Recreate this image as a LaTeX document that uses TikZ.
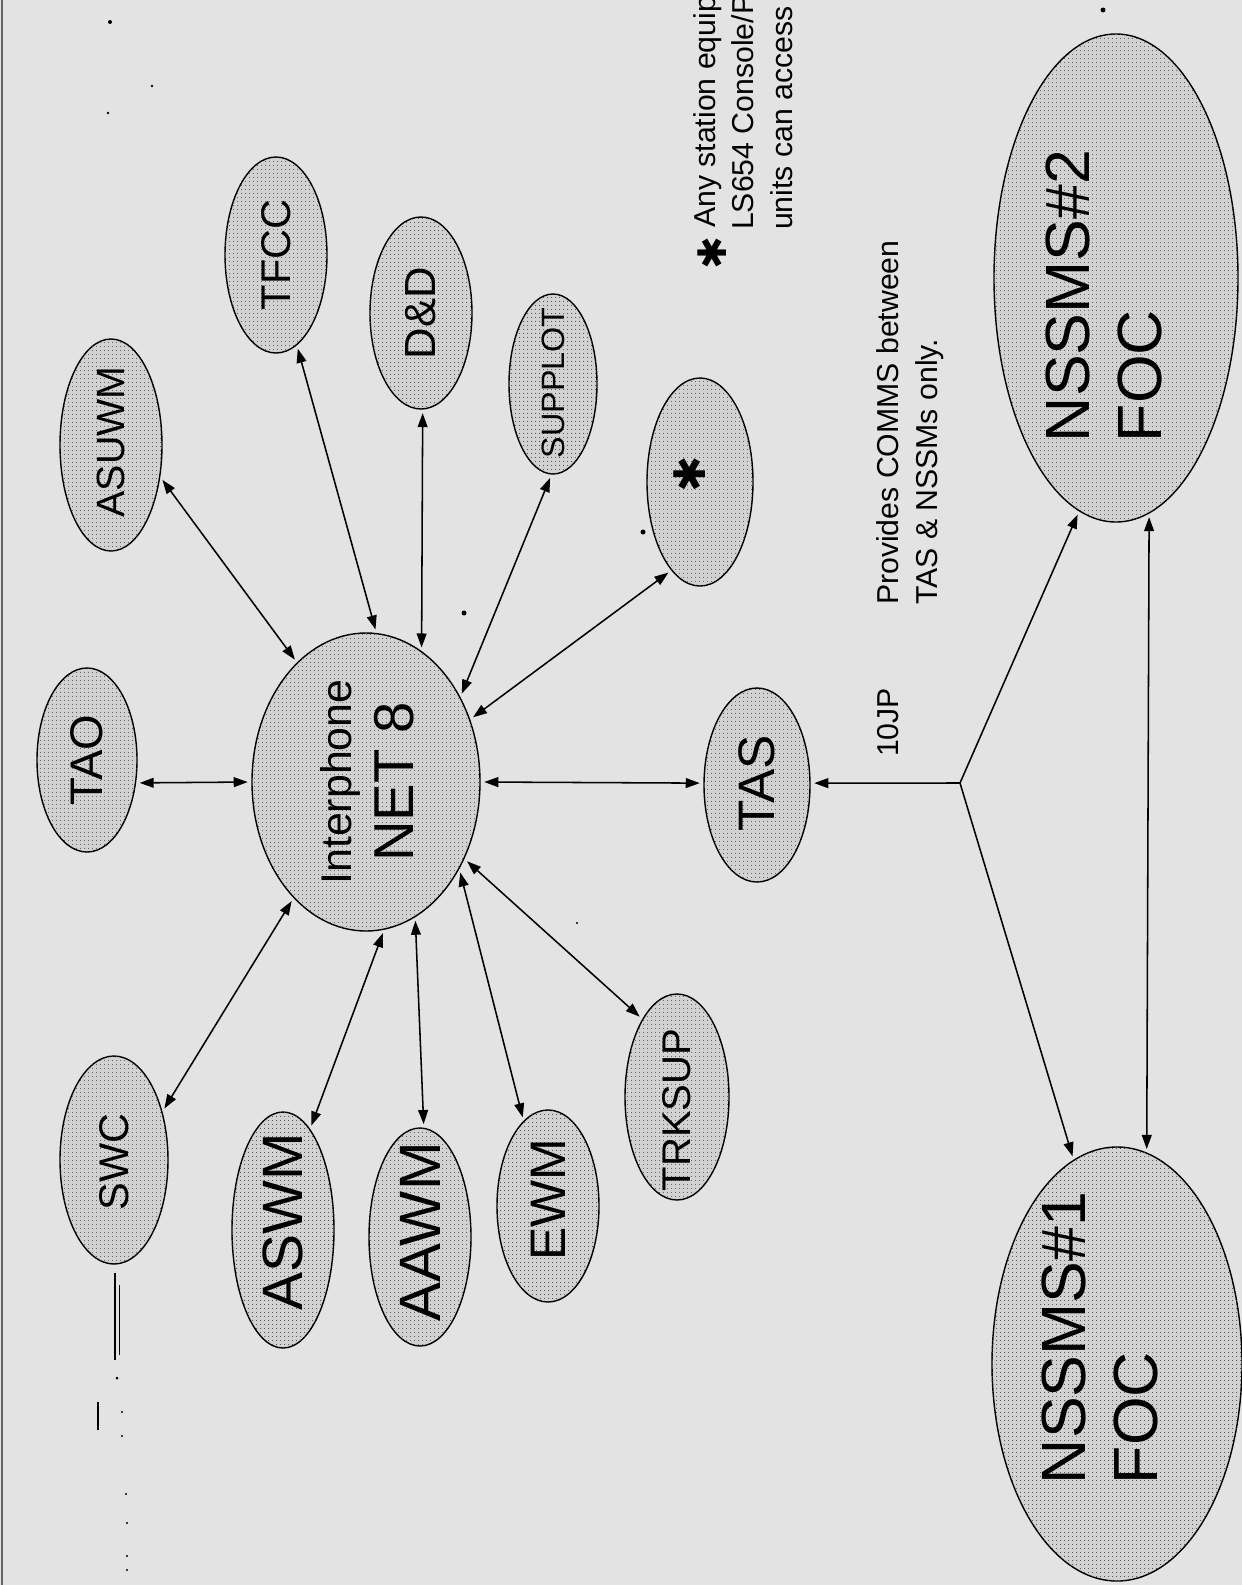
\documentclass[tikz,border=0pt]{standalone}
\usepackage{fontspec}
\setmainfont{Liberation Sans}
\newfontfamily\djv{DejaVu Sans}
\usetikzlibrary{arrows.meta,shapes.geometric,patterns.meta}
\definecolor{bg}{RGB}{227,227,227}
\definecolor{ellfill}{RGB}{210,210,210}
\definecolor{specks}{RGB}{60,60,60}
\pgfdeclarepattern{
  name=scandots,
  type=uncolored,
  bottom left={\pgfpoint{0pt}{0pt}},
  top right={\pgfpoint{5pt}{5pt}},
  tile size={\pgfpoint{5pt}{5pt}},
  code={\pgfpathcircle{\pgfpoint{2.5pt}{2.5pt}}{0.8pt}\pgfusepath{fill}}
}
\begin{document}
\begin{tikzpicture}[x=0.05cm,y=-0.05cm,
  ell/.style 2 args={ellipse, draw=black, line width=2pt, fill=ellfill, inner sep=0pt,
     minimum width=#1*0.1cm, minimum height=#2*0.1cm,
     postaction={pattern=scandots, pattern color=black!75}},
  lbl/.style={rotate=90, inner sep=0pt, text=black},
  note/.style={rotate=90, inner sep=0pt, anchor=base west, text=black,
     font=\fontsize{43}{50}\selectfont},
  conn/.style={{Triangle[length=20pt,width=14pt]}-{Triangle[length=20pt,width=14pt]},
     line width=2.2pt, shorten <=5pt, shorten >=5pt},
  oneway/.style={-{Triangle[length=20pt,width=14pt]}, line width=2.2pt, shorten >=5pt}]
\path[use as bounding box, fill=bg] (0,0) rectangle (1242,1585);
\clip (0,0) rectangle (1242,1585);
\draw[specks!80, line width=3pt] (2,0) -- (2,1585);

% ellipses
\node[ell={50}{92}]   (tao)     at (87,760) {};
\node[ell={51}{106}]  (asuwm)   at (111,445) {};
\node[ell={51}{98}]   (tfcc)    at (276,255) {};
\node[ell={51}{96}]   (dd)      at (421,313) {};
\node[ell={44}{90}]   (supplot) at (553,384) {};
\node[ell={53}{104}]  (star)    at (700,482) {};
\node[ell={114}{149}] (inter)   at (366,782) {};
\node[ell={53}{97}]   (tas)     at (757,785) {};
\node[ell={54}{104}]  (swc)     at (114,1160) {};
\node[ell={51}{118}]  (aswm)    at (283,1230) {};
\node[ell={51}{109}]  (aawm)    at (420,1237) {};
\node[ell={51}{96}]   (ewm)     at (548,1206) {};
\node[ell={52}{103}]  (trksup)  at (677,1097) {};
\node[ell={125}{217}] (nss1)    at (1117,1364) {};
\node[ell={122}{244}] (nss2)    at (1116,278) {};

% labels
\node[lbl, font=\fontsize{65}{70}\selectfont] (taoT) at (87,760) {TAO};
\node[lbl, font=\fontsize{56}{60}\selectfont] (asuwmT) at (111,442) {ASUWM};
\node[lbl, font=\fontsize{59}{60}\selectfont] (tfccT) at (276,255) {TFCC};
\node[lbl, font=\fontsize{62}{60}\selectfont] (ddT) at (421,313) {D\&D};
\node[lbl, font=\fontsize{46}{50}\selectfont] (supplotT) at (553,383) {SUPPLOT};
\node[lbl, font=\djv\fontsize{62}{60}\selectfont] (starT) at (690,474) {✱};
\node[lbl, font=\fontsize{61}{60}\selectfont] (interT1) at (340,782) {Interphone};
\node[lbl, font=\fontsize{80}{80}\selectfont] (interT2) at (394,782) {NET 8};
\node[lbl, font=\fontsize{73}{70}\selectfont] (tasT) at (757,783) {TAS};
\node[lbl, font=\fontsize{59}{60}\selectfont] (swcT) at (114,1162) {SWC};
\node[lbl, font=\fontsize{81}{80}\selectfont] (aswmT) at (283,1222) {ASWM};
\node[lbl, font=\fontsize{83}{80}\selectfont] (aawmT) at (420,1232) {AAWM};
\node[lbl, font=\fontsize{71}{70}\selectfont] (ewmT) at (548,1200) {EWM};
\node[lbl, font=\fontsize{57}{60}\selectfont] (trksupT) at (677,1110) {TRKSUP};
\node[lbl, align=left, font=\fontsize{89}{102}\selectfont] (nss1T) at (1100,1338) {NSSMS\#1\\FOC};
\node[lbl, align=left, font=\fontsize{89}{102}\selectfont] (nss2T) at (1104,296) {NSSMS\#2\\FOC};

% connectors around Interphone NET 8
\draw[conn] (tao.-25)      -- (inter.180.5);
\draw[conn] (asuwm.-33.7)  -- (inter.120);
\draw[conn] (tfcc.-77.4)   -- (inter.86.3);
\draw[conn] (dd.-89.4)     -- (inter.67.6);
\draw[conn] (supplot.-91.4)-- (inter.42.9);
\draw[conn] (star.-108.9)  -- (inter.31.8);
\draw[conn] (tas.178)      -- (inter.-0.5);
\draw[conn] (trksup.114.7) -- (inter.-38.7);
\draw[conn] (ewm.106.6)    -- (inter.-43.9);
\draw[conn] (aawm.88.9)    -- (inter.-70.5);
\draw[conn] (aswm.75.1)    -- (inter.-83.3);
\draw[conn] (swc.45)       -- (inter.-122.4);

% fork from TAS to the NSSMS FOCs
\coordinate (fork) at (960,783);
\draw[oneway] (fork) -- (tas.2);
\draw[oneway] (fork) -- (nss2.-99.6);
\draw[oneway] (fork) -- (nss1.102.2);
\draw[conn] (nss2.-82.9) -- (nss1.82.3);

% texts
\node[note] (jp) at (898,757) {10JP};
\node[note] (prov1) at (898,605) {Provides COMMS between};
\node[note] (prov2) at (937,605) {TAS \& NSSMs only.};
\node[lbl, font=\djv\fontsize{56}{60}\selectfont] (noteStar) at (712,253) {✱};
\node[note] (n1) at (715,228) {Any station equip};
\node[note] (n2) at (753,230) {LS654 Console/P};
\node[note] (n3) at (792,230) {units can access};

% scan marks
\draw[black, line width=1.6pt] (115,1273) -- (115,1360);
\draw[black, line width=1.2pt] (119,1285) -- (119,1355);
\draw[black, line width=1.6pt] (98,1402) -- (98,1430);
\fill[black] (117,1378) circle (1.5) (122,1412) circle (1.2) (122,1436) circle (1.2)
  (126,1494) circle (1.2) (127,1523) circle (1.2) (127,1556) circle (1.2) (127,1570) circle (1.2)
  (110,22) circle (2) (152,86) circle (1.4) (108,113) circle (1.4)
  (464,613) circle (2.5) (1103,10) circle (2.5) (643,532) circle (2.5) (577,923) circle (1.2);
\end{tikzpicture}
\end{document}
